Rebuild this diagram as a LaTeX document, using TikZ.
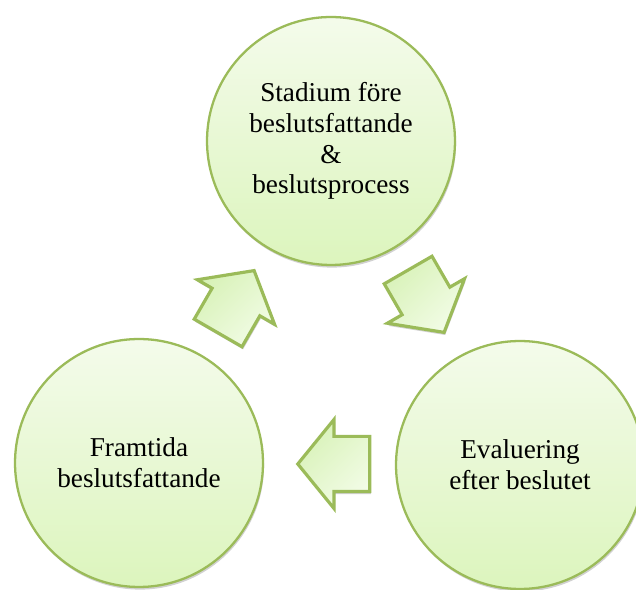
\documentclass[tikz,border=0pt]{standalone}
\usepackage{fontspec}
\setmainfont{Liberation Serif}
\usetikzlibrary{shapes.arrows,shadows}
\definecolor{ringline}{HTML}{9BBB59}
\definecolor{ringtop}{HTML}{F4FBEB}
\definecolor{ringbot}{HTML}{DCF5BD}
\definecolor{turnlight}{HTML}{F2FCE6}
\definecolor{turndark}{HTML}{D8F2B8}

\begin{document}
\begin{tikzpicture}[x=0.02cm, y=-0.02cm,
    stage/.style={circle, draw=ringline, line width=1.3pt,
      top color=ringtop, bottom color=ringbot,
      minimum size=4.96cm, inner sep=0pt, align=center,
      font=\fontsize{15.5}{17.5}\selectfont,
      drop shadow={shadow xshift=0.6pt, shadow yshift=-1.5pt, opacity=0.18, fill=black}},
    turn/.style={single arrow, draw=ringline, line width=1.8pt,
      left color=turndark, right color=turnlight, shading angle=45,
      minimum height=1.44cm, inner xsep=0pt, inner ysep=0.52cm,
      single arrow head extend=0.34cm, single arrow tip angle=101.7,
      drop shadow={shadow xshift=0.6pt, shadow yshift=-1.5pt, opacity=0.18, fill=black}}]
      % Fix the page size
      \useasboundingbox (0,0) rectangle (636,590);

      % Draw the three stages
      \node[stage] (before) at (331,141) {Stadium före\\beslutsfattande\\\&\\beslutsprocess};
      \node[stage] (after) at (520,465) {Evaluering\\efter beslutet};
      \node[stage] (future) at (139,463) {Framtida\\beslutsfattande};

      % Draw the turning arrows between them
      \node[turn, rotate=-60] (beforeafter) at (420.5,291.5) {};
      \node[turn, rotate=180] (afterfuture) at (345,464) {};
      \node[turn, rotate=60] (futurebefore) at (230.5,311.5) {};
    \end{tikzpicture}
\end{document}
